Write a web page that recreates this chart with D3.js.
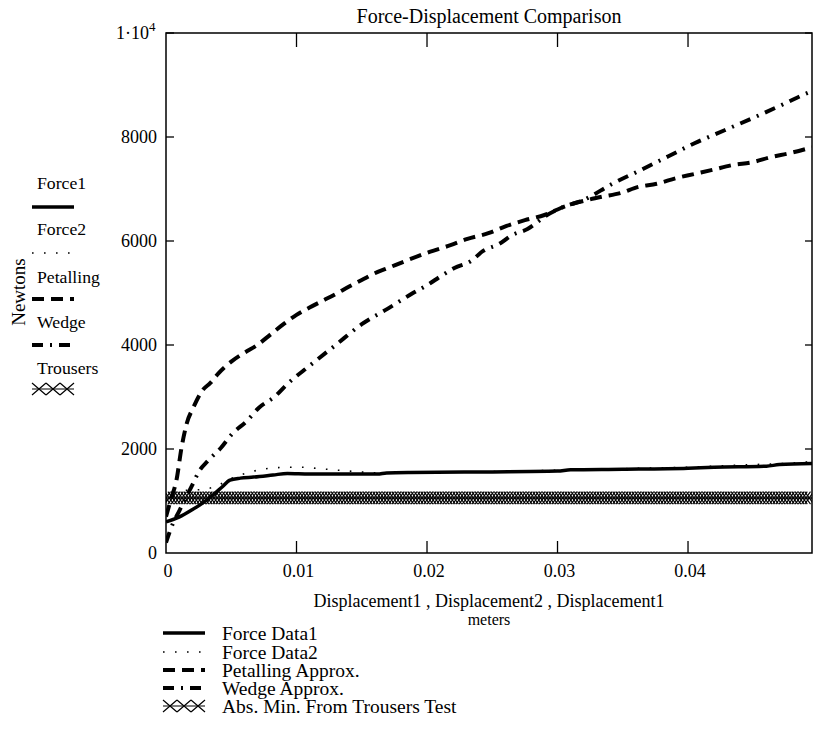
<!DOCTYPE html>
<html>
<head>
<meta charset="utf-8">
<script src="https://cdn.jsdelivr.net/npm/d3@7"></script>
<style>
  html, body { margin: 0; padding: 0; background: #fff; }
  text { font-family: "Liberation Serif", "Times New Roman", serif; fill: #000; }
</style>
</head>
<body>
<script>
// ---------------- data ----------------
const xTickValues = [0, 0.01, 0.02, 0.03, 0.04];
const xTickLabels = ["0", "0.01", "0.02", "0.03", "0.04"];
const yTickValues = [0, 2000, 4000, 6000, 8000, 10000];
const yTickLabels = ["0", "2000", "4000", "6000", "8000", "1·10"];
const xDomainMax = 0.0495;

// Force Data1 (solid)
const force1 = [[0,600],[0.001,690],[0.002,830],[0.0028,960],[0.0036,1115],[0.0043,1270],[0.0049,1400],
  [0.0057,1440],[0.0067,1460],[0.0082,1500],[0.0093,1530],[0.011,1520],[0.0162,1520],[0.0169,1540],
  [0.0187,1550],[0.025,1560],[0.030,1575],[0.031,1600],[0.035,1610],[0.040,1630],[0.042,1650],
  [0.046,1670],[0.047,1700],[0.0495,1720]];

// Force Data2 (dotted)
const force2 = [[0,1000],[0.0005,1150],[0.001,1200],[0.002,1210],[0.003,1230],[0.004,1300],[0.0047,1400],
  [0.0055,1480],[0.0065,1560],[0.0074,1610],[0.0085,1640],[0.0093,1650],[0.0105,1650],[0.011,1640],
  [0.0128,1600],[0.0149,1560],[0.0162,1540],[0.020,1550],[0.025,1565],[0.030,1590],[0.035,1620],
  [0.040,1650],[0.045,1700],[0.048,1730],[0.0495,1760]];

// Petalling Approx. (dashed)
const petalling = [[0,700],[0.0004,1050],[0.0008,1400],[0.0012,2040],[0.0016,2500],[0.0021,2800],
  [0.0028,3130],[0.0034,3270],[0.004,3450],[0.005,3680],[0.006,3850],[0.007,4000],[0.008,4200],
  [0.009,4400],[0.010,4580],[0.011,4720],[0.012,4850],[0.013,4980],[0.014,5120],[0.015,5250],
  [0.016,5380],[0.017,5480],[0.0187,5650],[0.0202,5790],[0.0218,5920],[0.0231,6040],[0.0247,6150],
  [0.0261,6290],[0.0275,6400],[0.029,6500],[0.0306,6670],[0.032,6770],[0.0334,6850],[0.0348,6920],
  [0.0362,7040],[0.0376,7100],[0.0391,7210],[0.0405,7290],[0.0419,7370],[0.0434,7460],[0.045,7520],
  [0.0463,7610],[0.0478,7690],[0.0495,7800]];

// Wedge Approx. (dash-dot)
const wedge = [[0,200],[0.0005,550],[0.001,800],[0.0015,1050],[0.002,1300],[0.0025,1560],[0.0032,1770],
  [0.0042,2020],[0.0051,2300],[0.0062,2540],[0.0071,2790],[0.0083,3000],[0.0093,3250],[0.011,3600],
  [0.013,4000],[0.015,4400],[0.017,4700],[0.0188,4980],[0.020,5150],[0.0211,5330],[0.0221,5480],
  [0.0234,5620],[0.0243,5810],[0.0255,5940],[0.0265,6110],[0.0277,6230],[0.0292,6500],[0.0304,6650],
  [0.032,6790],[0.0342,7100],[0.0365,7380],[0.0385,7630],[0.0405,7880],[0.0428,8130],[0.0451,8380],
  [0.0473,8630],[0.0492,8850],[0.0495,8880]];

// Abs. Min. From Trousers Test (constant level)
const trousersLevel = 1060;
const trousers = [[0, trousersLevel], [xDomainMax, trousersLevel]];

const sideLegend = ["Force1", "Force2", "Petalling", "Wedge", "Trousers"];
const bottomLegend = ["Force Data1", "Force Data2", "Petalling Approx.", "Wedge Approx.", "Abs. Min. From Trousers Test"];

// ---------------- drawing ----------------
const W = 814, H = 752;
const L = 166, R = 812, T = 33, B = 553;
const svg = d3.select("body").append("svg").attr("width", W).attr("height", H);

const x = d3.scaleLinear().domain([0, xDomainMax]).range([L, R]);
const y = d3.scaleLinear().domain([0, 10000]).range([B, T]);

svg.append("defs").append("clipPath").attr("id", "clip")
  .append("rect").attr("x", L).attr("y", T).attr("width", R - L).attr("height", B - T);

const styles = {
  force1: { w: 3.5, dash: null },
  force2: { w: 1.6, dash: "1.6,10.4" },
  petalling: { w: 4, dash: "12,7" },
  wedge: { w: 4, dash: "11,7,2,7" }
};

const plot = svg.append("g").attr("clip-path", "url(#clip)");
const line = d3.line().x(d => x(d[0])).y(d => y(d[1])).curve(d3.curveMonotoneX);

// trousers band: line with dense X markers
function xMarker(g, cx, cy, hw, hh, sw) {
  g.append("path")
    .attr("d", `M${cx-hw},${cy-hh}L${cx+hw},${cy+hh}M${cx-hw},${cy+hh}L${cx+hw},${cy-hh}`)
    .attr("stroke", "#000").attr("stroke-width", sw).attr("fill", "none");
}
const tg = plot.append("g");
tg.append("path").datum(trousers).attr("d", d3.line().x(d => x(d[0])).y(d => y(d[1])))
  .attr("stroke", "#000").attr("stroke-width", 1.5).attr("fill", "none");
{
  const x0 = x(trousers[0][0]), x1 = x(trousers[1][0]), ty = y(trousersLevel);
  for (let px = x0; px <= x1 + 0.1; px += 3.2) xMarker(tg, px, ty, 4.5, 6.2, 1.1);
}

function drawSeries(data, st) {
  const p = plot.append("path").datum(data).attr("d", line)
    .attr("fill", "none").attr("stroke", "#000").attr("stroke-width", st.w)
    .attr("stroke-linejoin", "round");
  if (st.dash) p.attr("stroke-dasharray", st.dash);
}
drawSeries(force1, styles.force1);
drawSeries(force2, styles.force2);
drawSeries(wedge, styles.wedge);
drawSeries(petalling, styles.petalling);

// frame
svg.append("rect").attr("x", L).attr("y", T).attr("width", R - L).attr("height", B - T)
  .attr("fill", "none").attr("stroke", "#000").attr("stroke-width", 1.5);

// ticks
xTickValues.filter(v => v > 0).forEach(v => {
  svg.append("line").attr("x1", x(v)).attr("x2", x(v)).attr("y1", B).attr("y2", B - 12)
    .attr("stroke", "#000").attr("stroke-width", 1.3);
  svg.append("line").attr("x1", x(v)).attr("x2", x(v)).attr("y1", T).attr("y2", T + 14)
    .attr("stroke", "#000").attr("stroke-width", 1.3);
});
yTickValues.filter(v => v > 0).forEach(v => {
  svg.append("line").attr("x1", L).attr("x2", L + 8).attr("y1", y(v)).attr("y2", y(v))
    .attr("stroke", "#000").attr("stroke-width", 1.3);
  svg.append("line").attr("x1", R).attr("x2", R - 7).attr("y1", y(v)).attr("y2", y(v))
    .attr("stroke", "#000").attr("stroke-width", 1.3);
});

// tick labels
xTickValues.forEach((v, i) => {
  svg.append("text").attr("x", x(v) + 2).attr("y", 577).attr("text-anchor", "middle")
    .attr("font-size", 18).text(xTickLabels[i]);
});
yTickValues.forEach((v, i) => {
  const t = svg.append("text").attr("x", 157).attr("y", y(v) + 6).attr("text-anchor", "end")
    .attr("font-size", 18);
  if (v === 10000) {
    t.attr("x", 149).text(yTickLabels[i]);
    svg.append("text").attr("x", 149).attr("y", y(v) - 2).attr("font-size", 13).text("4");
  } else t.text(yTickLabels[i]);
});

// title & axis titles
svg.append("text").attr("x", (L + R) / 2).attr("y", 23).attr("text-anchor", "middle")
  .attr("font-size", 20).text("Force-Displacement Comparison");
svg.append("text").attr("x", (L + R) / 2).attr("y", 607).attr("text-anchor", "middle")
  .attr("font-size", 18).text("Displacement1 , Displacement2 , Displacement1");
svg.append("text").attr("x", (L + R) / 2).attr("y", 625).attr("text-anchor", "middle")
  .attr("font-size", 16).text("meters");
svg.append("text").attr("transform", "translate(25,292) rotate(-90)").attr("text-anchor", "middle")
  .attr("font-size", 19).text("Newtons");

// legend sample drawer
const keys = ["force1", "force2", "petalling", "wedge", "trousers"];
function legendSample(g, key, x0, x1, yy) {
  if (key === "trousers") {
    g.append("line").attr("x1", x0).attr("x2", x1).attr("y1", yy).attr("y2", yy)
      .attr("stroke", "#000").attr("stroke-width", 1.2);
    const step = (x1 - x0) / 3;
    for (let k = 0; k < 3; k++) xMarker(g, x0 + step * (k + 0.5), yy, step / 2, 6, 1.2);
    return;
  }
  const st = styles[key];
  const l = g.append("line").attr("x1", x0).attr("x2", x1).attr("y1", yy).attr("y2", yy)
    .attr("stroke", "#000").attr("stroke-width", st.w);
  if (st.dash) l.attr("stroke-dasharray", st.dash);
}

// side legend
const sideTextY = [183, 229, 277, 322, 368];
const sideLineY = [207, 253, 299, 345, 389];
sideLegend.forEach((s, i) => {
  svg.append("text").attr("x", 37).attr("y", sideTextY[i] + 6).attr("font-size", 17.7).text(s);
  legendSample(svg, keys[i], 32, keys[i] === "force2" ? 76 : 74, sideLineY[i]);
});

// bottom legend
const botY = [633, 652, 670, 688, 706];
bottomLegend.forEach((s, i) => {
  svg.append("text").attr("x", 222).attr("y", botY[i] + 6.5).attr("font-size", 19.5).text(s);
  legendSample(svg, keys[i], 163, 205, botY[i]);
});
</script>
</body>
</html>
